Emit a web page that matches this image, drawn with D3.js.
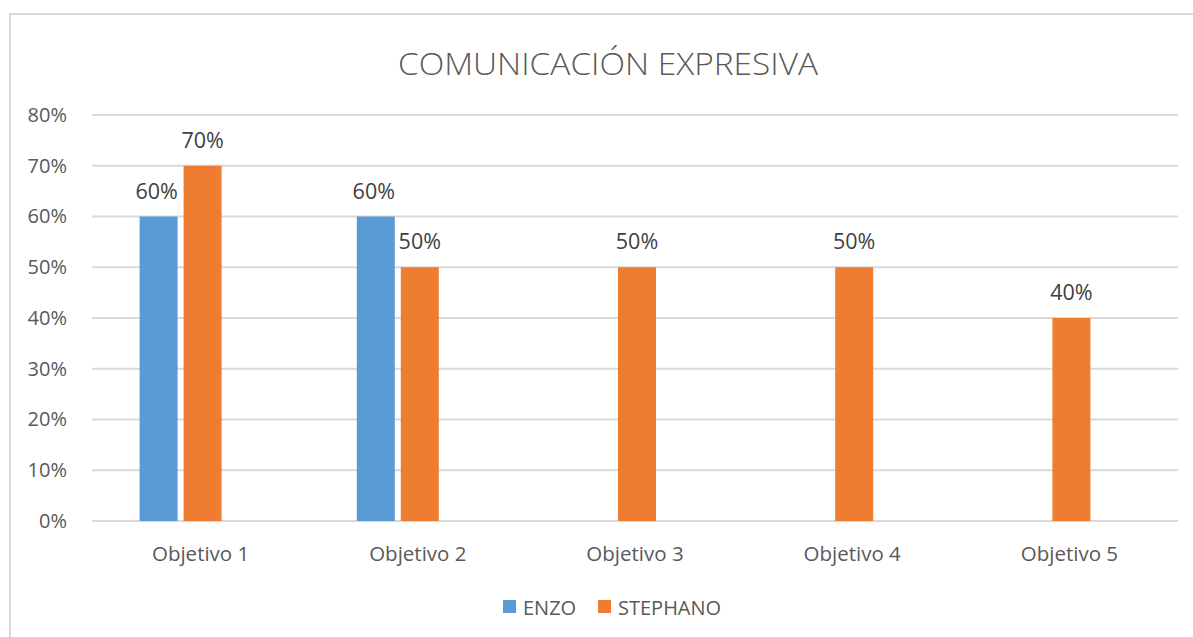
<!DOCTYPE html>
<html><head><meta charset="utf-8">
<script src="https://cdn.jsdelivr.net/npm/d3@7"></script>
<style>body{margin:0;background:#fff;} text{font-family:"Open Sans","Noto Sans",sans-serif;}</style>
</head><body>
<svg id="c" width="1193" height="637"></svg>
<script>
const categories = ["Objetivo 1","Objetivo 2","Objetivo 3","Objetivo 4","Objetivo 5"];
const seriesNames = ["ENZO","STEPHANO"];
const enzo = [0.6, 0.6, 0, 0, 0];
const stephano = [0.7, 0.5, 0.5, 0.5, 0.4];
const yTicks = [0,0.1,0.2,0.3,0.4,0.5,0.6,0.7,0.8];
const colors = ["#5B9BD5","#ED7D31"];

const svg = d3.select("#c");
// frame
svg.append("rect").attr("x",10).attr("y",14).attr("width",1200).attr("height",640)
  .attr("fill","#fff").attr("stroke","#d9d9d9").attr("stroke-width",2);

const m = {l:92, r:1178, t:115, b:521};
const x = d3.scaleBand().domain(categories).range([m.l,m.r]);
const y = d3.scaleLinear().domain([0,0.8]).range([m.b,m.t]);
const bw = 38, gap = 6;

// gridlines
svg.append("g").selectAll("line").data(yTicks).join("line")
  .attr("x1",m.l).attr("x2",m.r).attr("y1",d=>y(d)).attr("y2",d=>y(d))
  .attr("stroke","#d9d9d9").attr("stroke-width",2);

// y axis labels
const yAxis = d3.axisLeft(y).tickValues(yTicks).tickFormat(d3.format(".0%")).tickSize(0).tickPadding(0);
const ya = svg.append("g").attr("transform",`translate(67,0)`).call(yAxis);
ya.select(".domain").remove();
ya.selectAll("text").attr("font-size",20).attr("fill","#595959").attr("font-family","'Open Sans',sans-serif");

// x axis labels
const xAxis = d3.axisBottom(x).tickSize(0).tickPadding(0);
const xa = svg.append("g").attr("transform",`translate(0,${m.b+25})`).call(xAxis);
xa.select(".domain").remove();
xa.selectAll("text").attr("font-size",20.5).attr("fill","#595959").attr("font-family","'Open Sans',sans-serif");

const fmt = d3.format(".0%");
const cx = c => x(c) + x.bandwidth()/2;
// STEPHANO centered, ENZO to its left
const rows = categories.map((c,i)=>({c, e:enzo[i], s:stephano[i]}));
const g = svg.append("g");
rows.forEach(r=>{
  const sx = cx(r.c) - bw/2 + 2;
  const ex = sx - gap - bw;
  if (r.e > 0) {
    g.append("rect").attr("x",ex).attr("y",y(r.e)).attr("width",bw).attr("height",y(0)-y(r.e)).attr("fill",colors[0]);
    g.append("text").attr("x",ex+bw/2-2).attr("y",y(r.e)-18).attr("text-anchor","middle")
      .attr("font-size",21.5).attr("fill","#404040").text(fmt(r.e));
  }
  if (r.s > 0) {
    g.append("rect").attr("x",sx).attr("y",y(r.s)).attr("width",bw).attr("height",y(0)-y(r.s)).attr("fill",colors[1]);
    g.append("text").attr("x",sx+bw/2).attr("y",y(r.s)-18).attr("text-anchor","middle")
      .attr("font-size",21.5).attr("fill","#404040").text(fmt(r.s));
  }
});

// title
svg.append("text").attr("x",608).attr("y",75).attr("text-anchor","middle")
  .attr("font-size",32).attr("font-weight",300).attr("fill","#595959").attr("textLength",420).attr("lengthAdjust","spacingAndGlyphs")
  .text("COMUNICACIÓN EXPRESIVA");

// legend
const leg = svg.append("g");
const lx = [503, 598];
seriesNames.forEach((n,i)=>{
  leg.append("rect").attr("x",lx[i]).attr("y",600).attr("width",13).attr("height",13).attr("fill",colors[i]);
  leg.append("text").attr("x",lx[i]+20).attr("y",615).attr("font-size",20).attr("fill","#595959").text(n);
});
</script>
</body></html>
